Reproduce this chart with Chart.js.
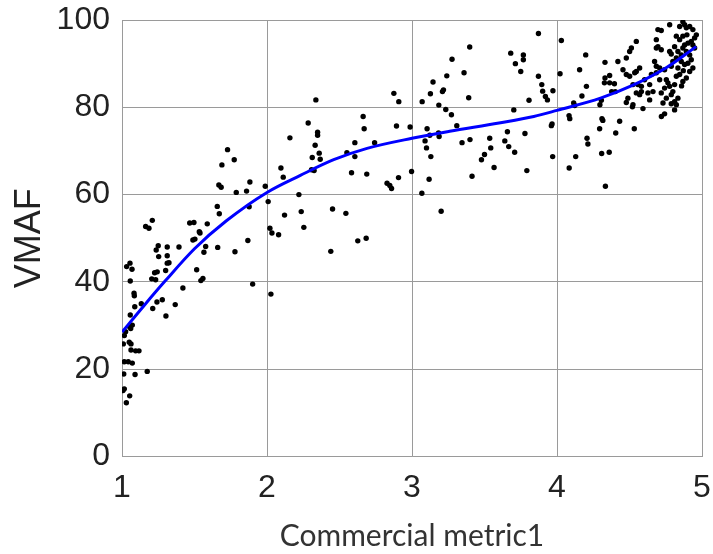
<!DOCTYPE html>
<html>
<head>
<meta charset="utf-8">
<script src="https://cdn.jsdelivr.net/npm/chart.js@4.4.0/dist/chart.umd.min.js"></script>
<style>
  html, body { margin: 0; padding: 0; background: #fff; }
  #wrap { width: 713px; height: 554px; }
</style>
</head>
<body>
<div id="wrap"><canvas id="vmafChart" width="713" height="554"></canvas></div>
<script>
// scatter samples: commercial metric1 score vs VMAF
var metricX = [
    1.657, 1.671, 1.163, 1.186, 1.209, 1.467, 1.496, 1.588, 1.533, 1.538,
    1.489, 1.503, 1.250, 1.236, 1.312, 1.393, 1.577, 1.660, 1.565, 1.253,
    1.312, 1.324, 1.312, 1.032, 1.055, 1.069, 1.301, 1.225, 1.243, 1.515,
    1.205, 1.232, 1.057, 1.544, 1.558, 1.420, 1.083, 1.085, 1.133, 1.088,
    1.241, 1.278, 1.212, 1.367, 1.057, 1.303, 1.071, 1.060, 1.050, 1.025,
    1.016, 1.009, 1.050, 1.062, 1.062, 1.094, 1.117, 1.016, 1.043, 1.071,
    1.012, 1.090, 1.174, 1.016, 1.007, 1.053, 1.030,
    2.284, 2.158, 1.728, 1.774, 1.689, 2.096, 2.112, 1.668, 1.684, 1.882,
    1.788, 1.859, 1.988, 2.220, 2.008, 1.877, 2.121, 2.236, 2.254, 2.020,
    2.034, 2.080, 1.868, 1.779, 1.901, 2.027,
    2.337, 2.349, 2.349, 2.332, 2.360, 2.312, 2.367, 2.663, 2.670, 2.606,
    2.551, 2.606, 2.307, 2.325, 2.583, 2.688, 2.452, 2.544, 2.440, 2.626,
    2.684,
    3.398, 3.276, 3.359, 3.240, 3.145, 3.217, 3.210, 3.127, 2.875, 2.909,
    3.070, 3.391, 3.185, 3.233, 3.272, 2.893, 2.987, 3.104, 3.309, 2.742,
    3.183, 3.187, 3.123, 3.090, 3.100, 3.130, 3.345, 3.400, 3.536, 3.543,
    3.500, 3.479, 3.566, 3.414, 2.828, 2.847, 2.859, 2.907, 2.997, 3.118,
    3.068, 3.201,
    3.872, 4.030, 3.681, 3.768, 3.768, 3.713, 3.750, 3.872, 4.021, 3.895,
    3.901, 3.920, 3.934, 3.972, 3.807, 3.702, 4.115, 4.122, 4.198, 4.156,
    4.203, 4.172, 4.083, 4.088, 3.966, 3.961, 3.658, 3.640, 3.667, 3.708,
    3.779, 3.792, 3.970, 4.084, 4.129, 4.207, 4.213, 4.294, 4.310, 4.316,
    4.296, 4.306, 4.331, 4.331, 4.327, 4.363, 4.396, 4.363, 4.377, 4.402,
    4.308, 4.360, 4.334,
    4.478, 4.524, 4.520, 4.593, 4.639, 4.788, 4.811, 4.720, 4.742, 4.432,
    4.405, 4.533,
    4.420, 4.478, 4.501, 4.513, 4.547, 4.455, 4.478, 4.501, 4.536, 4.547,
    4.570, 4.524, 4.558, 4.582, 4.604, 4.639, 4.662, 4.627, 4.570, 4.582,
    4.547, 4.651, 4.685, 4.708, 4.742, 4.708, 4.754, 4.765, 4.742, 4.777,
    4.811, 4.823, 4.846, 4.834, 4.788, 4.799, 4.823, 4.857, 4.880, 4.903,
    4.926, 4.915, 4.892, 4.868, 4.880, 4.903, 4.926, 4.949, 4.961, 4.937,
    4.915, 4.880, 4.846, 4.777, 4.696, 4.719, 4.685, 4.696, 4.719, 4.685,
    4.673, 4.685, 4.719, 4.754, 4.731, 4.788, 4.799, 4.834, 4.823, 4.811,
    4.868, 4.892, 4.915, 4.937, 4.949, 4.937, 4.857, 4.834, 4.811, 4.846,
    4.868, 4.896, 4.823, 4.892, 4.868, 4.777, 4.788, 4.859, 4.871, 4.489
];
var vmafY = [
    57.3, 55.6, 52.7, 52.3, 54.1, 53.5, 53.6, 53.3, 51.5, 51.2,
    49.6, 49.8, 48.3, 47.3, 48.0, 48.0, 48.1, 47.9, 46.8, 45.8,
    46.0, 44.4, 44.3, 43.5, 44.3, 42.9, 42.6, 42.1, 42.3, 42.8,
    40.7, 40.5, 40.2, 40.3, 40.8, 38.6, 37.4, 36.8, 35.0, 34.3,
    35.4, 35.9, 33.9, 34.8, 32.4, 32.2, 30.1, 29.3, 29.8, 28.6,
    27.7, 25.8, 26.2, 25.8, 24.4, 24.2, 24.2, 21.7, 21.7, 21.4,
    18.9, 18.8, 19.5, 15.5, 15.1, 13.9, 12.3,
    76.4, 73.0, 70.3, 68.0, 66.8, 66.1, 64.0, 62.2, 61.7, 62.9,
    60.5, 60.8, 61.9, 60.0, 58.4, 57.2, 55.3, 56.1, 52.5, 52.3,
    51.2, 50.8, 49.5, 46.9, 39.5, 37.2,
    81.7, 74.3, 73.6, 71.3, 69.5, 68.5, 68.1, 77.9, 75.1, 71.9,
    69.6, 68.7, 65.7, 65.5, 65.0, 64.7, 56.7, 55.7, 47.0, 49.4,
    50.0,
    93.8, 91.0, 87.9, 87.2, 85.8, 84.0, 83.6, 83.1, 83.2, 81.3,
    81.3, 82.2, 80.5, 79.5, 78.3, 75.7, 75.5, 75.1, 75.8, 71.9,
    74.1, 73.3, 73.6, 72.3, 70.7, 68.7, 71.9, 72.6, 72.9, 70.7,
    69.2, 68.0, 66.2, 64.2, 62.6, 62.1, 61.4, 63.9, 65.3, 63.5,
    60.3, 56.2,
    96.9, 95.3, 92.4, 92.0, 90.9, 90.0, 88.2, 87.1, 87.7, 85.2,
    83.7, 82.5, 81.7, 83.8, 81.6, 79.4, 81.0, 80.4, 92.0, 88.6,
    84.8, 82.6, 78.1, 77.4, 76.2, 75.8, 74.4, 72.3, 71.0, 69.7,
    74.0, 65.5, 68.7, 66.1, 68.7, 72.9, 71.6, 75.1, 77.4, 77.0,
    80.6, 81.6, 90.3, 86.7, 85.6, 85.6, 85.4, 87.3, 83.6, 83.6,
    69.4, 69.7, 61.9,
    81.1, 80.6, 80.1, 79.7, 81.7, 80.8, 81.3, 77.9, 78.5, 76.8,
    74.1, 75.1,
    90.5, 91.3, 92.8, 93.6, 95.1, 88.6, 87.5, 87.1, 87.9, 88.2,
    89.0, 85.2, 85.2, 84.8, 86.3, 85.2, 83.6, 83.3, 82.9, 83.6,
    83.3, 87.5, 87.9, 89.0, 88.6, 86.3, 86.3, 85.6, 84.4, 84.8,
    85.2, 87.1, 87.5, 89.0, 89.4, 90.5, 91.3, 90.5, 89.8, 90.1,
    90.9, 92.0, 92.8, 93.6, 94.3, 94.7, 95.1, 95.9, 96.6, 97.8,
    98.5, 98.9, 98.5, 98.9, 97.8, 97.6, 95.5, 93.9, 93.2, 93.6,
    90.5, 89.4, 83.3, 82.1, 81.0, 82.9, 83.6, 82.1, 80.6, 79.4,
    85.9, 86.7, 88.2, 89.0, 93.6, 94.3, 92.0, 92.8, 93.9, 95.5,
    96.3, 96.6, 96.3, 98.2, 99.6, 92.8, 92.2, 84.9, 88.4, 82.1
];

// fitted curve
var curveX = [1.0, 1.15, 1.3, 1.5, 1.72, 2.0, 2.23, 2.46, 2.69, 3.0, 3.26, 3.6, 3.84, 4.0, 4.3, 4.52, 4.75, 4.96];
var curveY = [28.5, 34.5, 40.3, 47.6, 54.0, 60.5, 64.4, 68.0, 70.6, 72.9, 74.5, 76.4, 77.9, 79.3, 82.1, 85.0, 89.0, 93.9];

var xTicks = [1, 2, 3, 4, 5];
var yTicks = [0, 20, 40, 60, 80, 100];

var scatterPts = metricX.map(function (x, i) { return { x: x, y: vmafY[i] }; });
var curvePts = curveX.map(function (x, i) { return { x: x, y: curveY[i] }; });

var gridColor = '#9a9a9a';
var tickFont = { family: 'Liberation Sans', size: 32 };

var ctx = document.getElementById('vmafChart').getContext('2d');
window.vmafChart = new Chart(ctx, {
    type: 'scatter',
    data: {
        datasets: [{
            label: 'samples',
            data: scatterPts,
            backgroundColor: '#000',
            borderColor: '#000',
            pointRadius: 2.7,
            pointBorderWidth: 0,
            order: 2
        }, {
            label: 'fit',
            data: curvePts,
            showLine: true,
            borderColor: '#0000ff',
            borderWidth: 3,
            pointRadius: 0,
            cubicInterpolationMode: 'monotone',
            fill: false,
            order: 1
        }]
    },
    options: {
        responsive: false,
        animation: false,
        devicePixelRatio: 1,
        layout: { padding: { top: 20, right: 11, left: 0, bottom: 0 } },
        plugins: {
            legend: { display: false },
            tooltip: { enabled: false }
        },
        scales: {
            x: {
                type: 'linear',
                min: 1,
                max: 5,
                afterBuildTicks: function (scale) {
                    scale.ticks = xTicks.map(function (v) { return { value: v }; });
                },
                afterFit: function (scale) {
                    // keep the plot box where the reference has it
                    scale.height = 97.5;
                    scale.paddingLeft = 0;
                    scale.paddingRight = 0;
                },
                ticks: { font: tickFont, color: '#222', padding: 12, maxRotation: 0 },
                grid: { color: gridColor, lineWidth: 1, drawTicks: false },
                border: { color: gridColor },
                title: {
                    display: true,
                    text: 'Commercial metric1',
                    color: '#333',
                    font: { family: 'Lato', size: 30 },
                    padding: { top: 0, bottom: 0 }
                }
            },
            y: {
                min: 0,
                max: 100,
                afterBuildTicks: function (scale) {
                    scale.ticks = yTicks.map(function (v) { return { value: v }; });
                },
                afterFit: function (scale) {
                    scale.width = 122;
                    scale.paddingTop = 0;
                    scale.paddingBottom = 0;
                },
                ticks: { font: tickFont, color: '#222', padding: 12 },
                grid: { color: gridColor, lineWidth: 1, drawTicks: false },
                border: { color: gridColor },
                title: {
                    display: true,
                    text: 'VMAF',
                    color: '#222',
                    font: { family: 'Liberation Sans', size: 36 },
                    padding: { top: 8, bottom: 0 }
                }
            }
        }
    }
});
</script>
</body>
</html>
